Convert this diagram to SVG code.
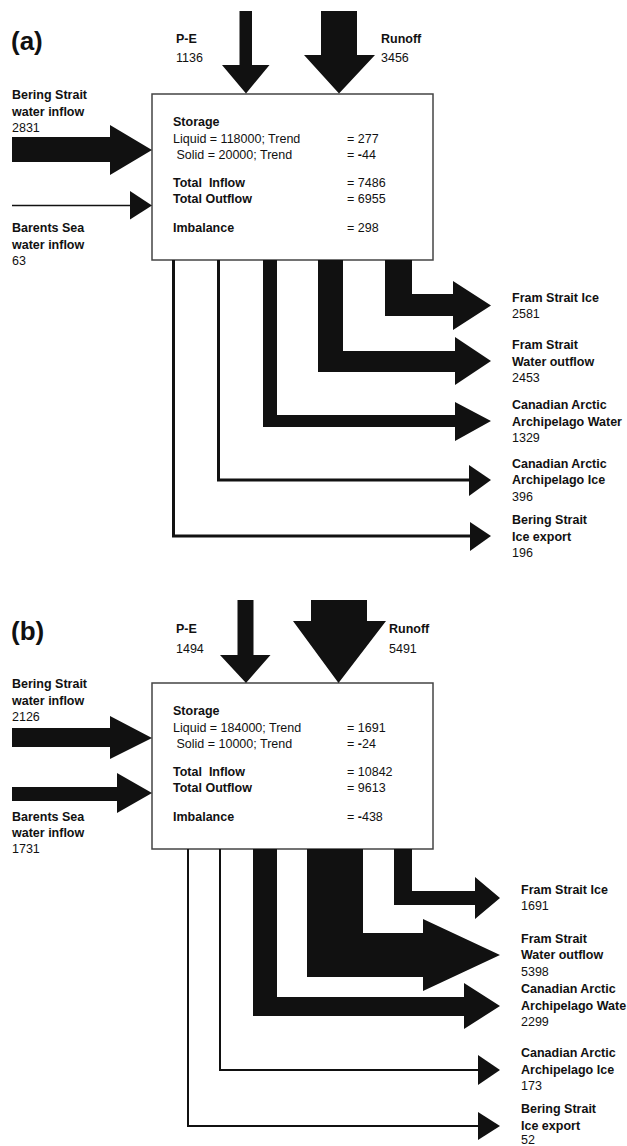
<svg xmlns="http://www.w3.org/2000/svg" width="627" height="1146" viewBox="0 0 627 1146">
<style>
text{font-family:"Liberation Sans",Arial,sans-serif;font-size:12.5px;fill:#111;white-space:pre}
.b{font-weight:bold}
.t{font-weight:bold;font-size:26px}
.box{fill:#fff;stroke:#444;stroke-width:1.5}
.f{fill:#111;stroke:none}
.ln{fill:none;stroke:#111;stroke-width:3}
.ln2{fill:none;stroke:#111;stroke-width:2}
</style>
<rect width="627" height="1146" fill="#fff"/>

<!-- Panel (a) -->
<text class="t" x="11" y="50">(a)</text>
<g id="a-box">
<rect class="box" x="152" y="94" width="281" height="166"/>
<text class="b" x="173" y="126">Storage</text>
<text x="173" y="142.5">Liquid = 118000; Trend</text>
<text x="173" y="159"> Solid = 20000; Trend</text>
<text x="347" y="142.5">= 277</text>
<text x="347" y="159">= <tspan class="b">-</tspan>44</text>
<text class="b" x="173" y="186.5">Total  Inflow</text>
<text class="b" x="173" y="203">Total Outflow</text>
<text x="347" y="186.5">= 7486</text>
<text x="347" y="203">= 6955</text>
<text class="b" x="173" y="231.5">Imbalance</text>
<text x="347" y="231.5">= 298</text>
</g>
<g id="a-pe"><text class="b" x="176" y="43">P-E</text><text x="176" y="62">1136</text></g>
<g id="a-runoff"><text class="b" x="381" y="43">Runoff</text><text x="381" y="62">3456</text></g>
<g id="a-bering-in"><text class="b" x="12" y="99">Bering Strait</text><text class="b" x="12" y="115.5">water inflow</text><text x="12" y="132">2831</text></g>
<g id="a-barents-in"><text class="b" x="12" y="232">Barents Sea</text><text class="b" x="12" y="249">water inflow</text><text x="12" y="265">63</text></g>
<g id="a-fram-ice"><text class="b" x="512" y="301.5">Fram Strait Ice</text><text x="512" y="317.5">2581</text></g>
<g id="a-fram-water"><text class="b" x="512" y="349">Fram Strait</text><text class="b" x="512" y="365.5">Water outflow</text><text x="512" y="381.5">2453</text></g>
<g id="a-caa-water"><text class="b" x="512" y="409">Canadian Arctic</text><text class="b" x="512" y="425.5">Archipelago Water</text><text x="512" y="441.5">1329</text></g>
<g id="a-caa-ice"><text class="b" x="512" y="467.5">Canadian Arctic</text><text class="b" x="512" y="484">Archipelago Ice</text><text x="512" y="500.5">396</text></g>
<g id="a-bering-ice"><text class="b" x="512" y="524">Bering Strait</text><text class="b" x="512" y="540.5">Ice export</text><text x="512" y="556.5">196</text></g>

<g id="a-connectors">
<path class="f" d="M239.5,11H252V65H269.5L246,93.5L222,65H239.5Z"/>
<path class="f" d="M321,11H357V55H375L339,93.5L304,55H321Z"/>
<path class="f" d="M12,137H110V125L152,150L110,175V162H12Z"/>
<path class="ln2" style="stroke-width:1.5" d="M12,205.5H132"/>
<path class="f" d="M130,191L152,205.5L130,219.5Z"/>
<path class="f" d="M385,260H412V294H453V281L491,305.5L453,330V316H385Z"/>
<path class="f" d="M318,260H343V351H455V337L491,361L455,385V372H318Z"/>
<path class="f" d="M263,260H277V415H455V402L491,421L455,441V427H263Z"/>
<path class="ln" d="M218.5,260V480H472"/>
<path class="f" d="M469,465L491,480L469,496Z"/>
<path class="ln" d="M173.5,260V536H472"/>
<path class="f" d="M470,522L491,536L470,551Z"/>
</g>

<!-- Panel (b) -->
<text class="t" x="11" y="640">(b)</text>
<g id="b-box">
<rect class="box" x="152" y="683" width="281" height="166"/>
<text class="b" x="173" y="715">Storage</text>
<text x="173" y="731.5">Liquid = 184000; Trend</text>
<text x="173" y="747.5"> Solid = 10000; Trend</text>
<text x="347" y="731.5">= 1691</text>
<text x="347" y="747.5">= <tspan class="b">-</tspan>24</text>
<text class="b" x="173" y="775.5">Total  Inflow</text>
<text class="b" x="173" y="792">Total Outflow</text>
<text x="347" y="775.5">= 10842</text>
<text x="347" y="792">= 9613</text>
<text class="b" x="173" y="820.5">Imbalance</text>
<text x="347" y="820.5">= <tspan class="b">-</tspan>438</text>
</g>
<g id="b-pe"><text class="b" x="176" y="633">P-E</text><text x="176" y="653">1494</text></g>
<g id="b-runoff"><text class="b" x="389" y="633">Runoff</text><text x="389" y="653">5491</text></g>
<g id="b-bering-in"><text class="b" x="12" y="688">Bering Strait</text><text class="b" x="12" y="704.5">water inflow</text><text x="12" y="720.5">2126</text></g>
<g id="b-barents-in"><text class="b" x="12" y="820.5">Barents Sea</text><text class="b" x="12" y="837">water inflow</text><text x="12" y="853">1731</text></g>
<g id="b-fram-ice"><text class="b" x="521" y="894">Fram Strait Ice</text><text x="521" y="910">1691</text></g>
<g id="b-fram-water"><text class="b" x="521" y="942.5">Fram Strait</text><text class="b" x="521" y="959">Water outflow</text><text x="521" y="975.5">5398</text></g>
<g id="b-caa-water"><text class="b" x="521" y="993">Canadian Arctic</text><text class="b" x="521" y="1010">Archipelago Wate</text><text x="521" y="1026">2299</text></g>
<g id="b-caa-ice"><text class="b" x="521" y="1057">Canadian Arctic</text><text class="b" x="521" y="1074">Archipelago Ice</text><text x="521" y="1090">173</text></g>
<g id="b-bering-ice"><text class="b" x="521" y="1113">Bering Strait</text><text class="b" x="521" y="1130">Ice export</text><text x="521" y="1144">52</text></g>

<g id="b-connectors">
<path class="f" d="M237.5,600H253.5V655H270.5L246,683L220,655H237.5Z"/>
<path class="f" d="M311,600H367V621H386L338.5,683L293,621H311Z"/>
<path class="f" d="M12,728H110V716L152,738L110,759V747H12Z"/>
<path class="f" d="M12,787H117V773L152,793L117,813V801H12Z"/>
<path class="f" d="M394,849H412V891H475V877L500,898L475,919V905H394Z"/>
<path class="f" d="M307,849H363V933H423V919L500,955L423,991V977H307Z"/>
<path class="f" d="M253,849H277V997H464V983L500,1006L464,1029V1016H253Z"/>
<path class="ln2" d="M220,849V1070H480"/>
<path class="f" d="M478,1055L500,1070L478,1085Z"/>
<path class="ln2" d="M188,849V1126H480"/>
<path class="f" d="M478,1112L500,1126L478,1140Z"/>
</g>
</svg>
